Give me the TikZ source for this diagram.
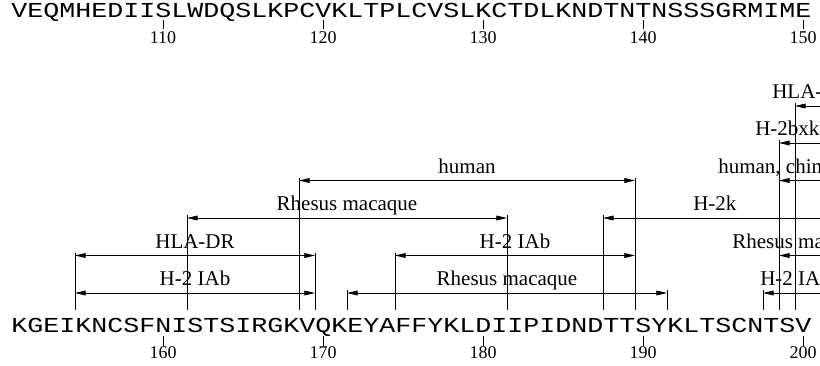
\documentclass[tikz,border=0pt]{standalone}
\usepackage{fontspec}
\setmainfont{Liberation Serif}
\newfontfamily\seqfont[FakeStretch=1.25]{Liberation Mono}
\usetikzlibrary{arrows.meta,calc}

% one residue is 16 units wide; residue 151 starts at x=11
% closed epitope: bars at both ends, arrows both ways, label centred
\newcommand{\epitope}[5]{%
  \pgfmathsetmacro{\xl}{16*(#3-150)-5}
  \pgfmathsetmacro{\xr}{16*(#4-150)+11}
  \coordinate (#1-l) at (\xl,#2);
  \coordinate (#1-r) at (\xr,#2);
  \draw[bar] (\xl,#2-3) -- (\xl,310);
  \draw[bar] (\xr,#2-3) -- (\xr,310);
  \draw[epispan] (#1-l) -- (#1-r) node[tagtext, midway, yshift=5.6pt] (#1-t) {#5};
}
% open epitope: runs on past the right edge
\newcommand{\openepitope}[5]{%
  \pgfmathsetmacro{\xl}{16*(#3-150)-5}
  \coordinate (#1-l) at (\xl,#2);
  \coordinate (#1-r) at (830,#2);
  \draw[bar] (\xl,#2-3) -- (\xl,310);
  \draw[openspan] (#1-l) -- (#1-r);
  \node[tagtext, anchor=base west] (#1-t) at (#4,#2-7.5) {#5};
}

\begin{document}
\begin{tikzpicture}[x=0.75pt,y=-0.75pt,
    seqtext/.style={font=\seqfont\fontsize{16}{18}\selectfont, anchor=base west, inner sep=0pt},
    numtext/.style={font=\fontsize{13.5}{16}\selectfont, anchor=base, inner sep=0pt},
    tagtext/.style={font=\fontsize{15.75}{18}\selectfont, anchor=base, inner sep=0pt},
    bar/.style={line width=0.6pt},
    epispan/.style={line width=0.6pt, {Triangle[length=8pt,width=3.6pt]}-{Triangle[length=8pt,width=3.6pt]}},
    openspan/.style={line width=0.6pt, {Triangle[length=8pt,width=3.6pt]}-}]
  \useasboundingbox (0,0) rectangle (820,365);
  \clip (0,0) rectangle (820,365);

  % residues 101-150
  \node[seqtext] (seqA) at (11,17) {VEQMHEDIISLWDQSLKPCVKLTPLCVSLKCTDLKNDTNTNSSSGRMIME};
  \foreach \n in {110,120,...,150} {
    \draw[bar] ({16*(\n-100)+3},20) -- ({16*(\n-100)+3},29);
    \node[numtext] (n\n) at ({16*(\n-100)+3},43) {\n};
  }

  % residues 151-200
  \node[seqtext] (seqB) at (11,332) {KGEIKNCSFNISTSIRGKVQKEYAFFYKLDIIPIDNDTTSYKLTSCNTSV};
  \foreach \n in {160,170,...,200} {
    \draw[bar] ({16*(\n-150)+3},336) -- ({16*(\n-150)+3},346);
    \node[numtext] (n\n) at ({16*(\n-150)+3},358) {\n};
  }

  % epitopes
  \epitope{iabA}{293}{155}{169}{H-2 IAb}
  \epitope{drA}{255.5}{155}{169}{HLA-DR}
  \epitope{rmA}{218}{162}{181}{Rhesus macaque}
  \epitope{huA}{180.5}{169}{189}{human}
  \epitope{iabB}{255.5}{175}{189}{H-2 IAb}
  \epitope{rmB}{293}{172}{191}{Rhesus macaque}

  \openepitope{hk}{218}{188}{693}{H-2k}
  \openepitope{huB}{180.5}{199}{718}{human, chimpanzee}
  \openepitope{rmC}{255.5}{199}{732}{Rhesus macaque}
  \openepitope{iabC}{293}{198}{760}{H-2 IAb}
  \openepitope{bxk}{143}{199}{755}{H-2bxk}
  \openepitope{drB}{106}{200}{772}{HLA-DR}
\end{tikzpicture}
\end{document}
